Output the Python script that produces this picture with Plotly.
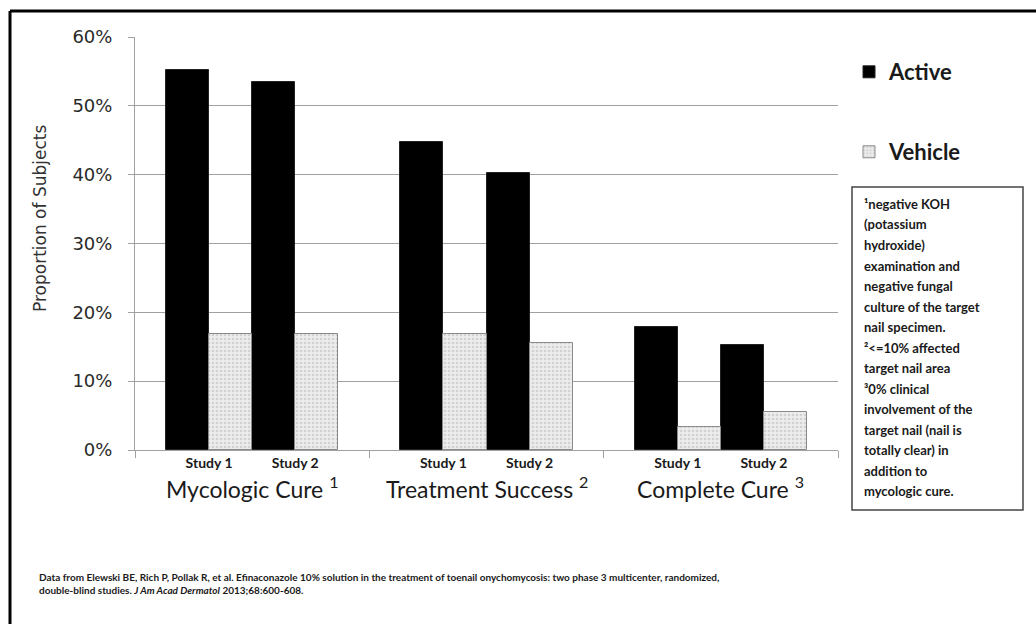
import plotly.graph_objects as go

# ---- data -------------------------------------------------------------
groups = ["Mycologic Cure", "Treatment Success", "Complete Cure"]
group_marks = ["1", "2", "3"]
studies = ["Study 1", "Study 2"]
active = [0.552, 0.534, 0.448, 0.402, 0.178, 0.152]
vehicle = [0.168, 0.169, 0.169, 0.155, 0.033, 0.055]
y_ticks = [0.0, 0.1, 0.2, 0.3, 0.4, 0.5, 0.6]

note_lines = [
    "¹negative KOH",
    "(potassium",
    "hydroxide)",
    "examination and",
    "negative fungal",
    "culture of the target",
    "nail specimen.",
    "²<=10% affected",
    "target nail area",
    "³0% clinical",
    "involvement of the",
    "target nail (nail is",
    "totally clear) in",
    "addition to",
    "mycologic cure.",
]
source_text = (
    "Data from Elewski BE, Rich P, Pollak R, et al. Efinaconazole 10% solution in the "
    "treatment of toenail onychomycosis: two phase 3 multicenter, randomized,<br>"
    "double-blind studies. <i>J Am Acad Dermatol</i> 2013;68:600-608."
)

# ---- layout constants ------------------------------------------------
W, H = 1036, 624
L, R, T, B = 135, 838, 37, 450          # plot area in pixels
GROUP_WIDTH = 2.72                      # in units of one study pair
GROUP_PAD = 0.36

FONT = "Lato"
TEXT = "#1a1a1a"
GRID = "#a0a0a0"


def px_x(p):
    return (p - L) / (R - L)


def px_y(p):
    return (B - p) / (B - T)


# one x position per study, pairs adjacent inside a group
x_pos = [g * GROUP_WIDTH + GROUP_PAD + 0.5 + s
         for g in range(len(groups)) for s in range(len(studies))]
x_text = [studies[s] for g in range(len(groups)) for s in range(len(studies))]
group_edges = [g * GROUP_WIDTH for g in range(len(groups) + 1)]

fig = go.Figure()
fig.add_trace(go.Bar(
    name="Active", x=x_pos, y=active,
    marker=dict(color="black", line=dict(color="#222", width=1)),
    legend="legend",
))
fig.add_trace(go.Bar(
    name="Vehicle", x=x_pos, y=vehicle,
    marker=dict(
        color="#e9e9e9",
        line=dict(color="#8a8a8a", width=1),
        pattern=dict(shape=".", fgcolor="#b5b5b5", bgcolor="#ececec",
                     size=4, solidity=0.35),
    ),
    legend="legend2",
))

annotations = []
# group names under the study labels
for g, (name, mark) in enumerate(zip(groups, group_marks)):
    annotations.append(dict(
        x=g * GROUP_WIDTH + GROUP_WIDTH / 2, xref="x",
        y=px_y(487), yref="paper",
        text=f"{name} <sup>{mark}</sup>", showarrow=False,
        xanchor="center", yanchor="middle",
        font=dict(family=FONT, size=23, color=TEXT),
    ))

# y-axis title
annotations.append(dict(
    x=px_x(40), xref="paper", y=px_y(219), yref="paper",
    text="Proportion of Subjects", textangle=-90, showarrow=False,
    xanchor="center", yanchor="middle",
    font=dict(family="DejaVu Sans", size=17, color="#333"),
))

# footnote box text
for i, line in enumerate(note_lines):
    annotations.append(dict(
        x=px_x(862), xref="paper", y=px_y(204 + i * 20.5), yref="paper",
        text=line, showarrow=False, xanchor="left", yanchor="middle",
        font=dict(family=FONT, size=13, color=TEXT, weight="bold"),
    ))

# source line
annotations.append(dict(
    x=px_x(37), xref="paper", y=px_y(569), yref="paper",
    text=source_text, showarrow=False, xanchor="left", yanchor="top",
    align="left",
    font=dict(family=FONT, size=10, color=TEXT, weight="bold"),
))

shapes = [
    # footnote box
    dict(type="rect", xref="paper", yref="paper",
         x0=px_x(852), x1=px_x(1023), y0=px_y(510), y1=px_y(187),
         line=dict(color="#444", width=1.5), fillcolor="rgba(0,0,0,0)"),
    # outer frame (top and left edges)
    dict(type="line", xref="paper", yref="paper",
         x0=px_x(10), x1=px_x(W + 5), y0=px_y(11), y1=px_y(11),
         line=dict(color="black", width=3)),
    dict(type="line", xref="paper", yref="paper",
         x0=px_x(10), x1=px_x(10), y0=px_y(11), y1=px_y(H + 5),
         line=dict(color="black", width=3)),
]

legend_style = dict(
    xref="paper", yref="paper", xanchor="left", yanchor="middle",
    bgcolor="rgba(0,0,0,0)",
    font=dict(family=FONT, size=22, color=TEXT, weight="bold"),
)

fig.update_layout(
    width=W, height=H,
    margin=dict(l=L, r=W - R, t=T, b=H - B, pad=0),
    paper_bgcolor="white", plot_bgcolor="white",
    barmode="group", bargap=0, bargroupgap=0,
    showlegend=True,
    legend=dict(x=px_x(849), y=px_y(72), **legend_style),
    legend2=dict(x=px_x(849), y=px_y(152), **legend_style),
    xaxis=dict(
        range=[0, GROUP_WIDTH * len(groups)],
        tickmode="array", tickvals=x_pos, ticktext=x_text, ticks="",
        tickfont=dict(family=FONT, size=14, color=TEXT, weight="bold"),
        showline=True, linecolor=GRID, linewidth=1,
        showgrid=False, zeroline=False,
        minor=dict(tickmode="array", tickvals=group_edges, ticks="outside",
                   ticklen=7, tickcolor=GRID, tickwidth=1, showgrid=False),
    ),
    yaxis=dict(
        range=[0, 0.6], tickmode="array", tickvals=y_ticks,
        tickformat=".0%",
        tickfont=dict(family="DejaVu Sans", size=18, color="#2a2a2a"),
        ticklabelstandoff=12,
        ticks="outside", ticklen=6, tickcolor=GRID,
        showline=True, linecolor=GRID, linewidth=1,
        showgrid=True, gridcolor=GRID, gridwidth=1, zeroline=False,
    ),
    annotations=annotations,
    shapes=shapes,
)

fig.write_html("out.html")
